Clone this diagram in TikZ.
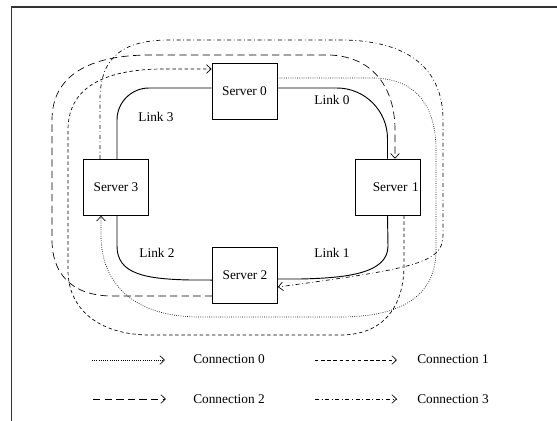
\documentclass[tikz,border=0pt]{standalone}
\usepackage{fontspec}
\setmainfont{Liberation Serif}
\usetikzlibrary{arrows.meta}
\begin{document}
\begin{tikzpicture}[x=0.75pt,y=-0.75pt,
  font=\fontsize{10}{12}\selectfont,
  serverbox/.style={draw,line width=0.5pt,minimum width=48.75pt,minimum height=42pt,inner sep=1pt},
  linkline/.style={line width=0.7pt},
  conn/.style={line width=0.5pt,-{Straight Barb[length=3.5pt,width=6.5pt]}},
  connzero/.style={conn,dash pattern=on 0.55pt off 1.1pt},
  connone/.style={conn,dash pattern=on 2.6pt off 2pt},
  conntwo/.style={conn,dash pattern=on 5.5pt off 3.2pt},
  connthree/.style={conn,dash pattern=on 3pt off 2pt on 0.6pt off 2pt},
  lbl/.style={inner sep=0pt}]
\useasboundingbox (0,0) rectangle (557,421);
% frame
\draw[line width=0.8pt,black!80] (11.5,421) -- (11.5,7) -- (557,7);
% servers
\node[serverbox] (s0) at (244.5,91) {Server 0};
\node[serverbox] (s3) at (116,187.5) {Server 3};
\node[serverbox,text width=46.75pt,align=right] (s1) at (387.5,187) {Server 1};
\node[serverbox] (s2) at (245,275.5) {Server 2};
% links
\draw[linkline,rounded corners=24pt] ([xshift=0.75pt]s3.north) |- ([yshift=2.25pt]s0.west);
\draw[linkline,rounded corners=38pt] ([yshift=2.25pt]s0.east) -| (s1.north);
\draw[linkline] (s1.south) -- (388,246) .. controls (388,274) and (345,278) .. (300,279) -- ([yshift=-2.6pt]s2.east);
\draw[linkline] ([xshift=0.75pt]s3.south) -- (117,246) .. controls (117,274) and (145,279) .. (190,280) -- ([yshift=-3.4pt]s2.west);
\node[lbl] (l3) at (156,117) {Link 3};
\node[lbl] (l0) at (332,100) {Link 0};
\node[lbl] (l1) at (332,253) {Link 1};
\node[lbl] (l2) at (157,253) {Link 2};
% connection 0 (dotted): Server 0 -> Server 3
\draw[connzero] ([yshift=9.75pt]s0.east) -- (372,78) .. controls (415,78) and (436,105) .. (436,150)
  -- (436,250) .. controls (436,297) and (400,317) .. (340,317) -- (200,317)
  .. controls (135,317) and (101,285) .. (101,235) -- ([xshift=-11.25pt]s3.south);
% connection 1 (short dashes): Server 1 -> Server 0
\draw[connone] ([xshift=12.4pt]s1.south) -- (404,265) .. controls (404,305) and (385,335) .. (340,335)
  -- (150,335) .. controls (100,335) and (68,310) .. (68,270) -- (68,130)
  .. controls (68,90) and (100,70) .. (160,69) -- ([yshift=16.5pt]s0.west);
% connection 2 (long dashes): Server 2 -> Server 1
\draw[conntwo] ([yshift=-15.4pt]s2.west) -- (110,296) .. controls (70,295) and (52,272) .. (52,240)
  -- (52,120) .. controls (52,75) and (90,55) .. (150,55) -- (330,55)
  .. controls (375,57) and (395,90) .. (395,130) -- ([xshift=5.6pt]s1.north);
% connection 3 (dash-dot): Server 3 -> Server 2
\draw[connthree] ([xshift=-12pt]s3.north) -- (100,100) .. controls (100,55) and (125,40) .. (170,40)
  -- (340,40) .. controls (410,40) and (443,70) .. (443,120) -- (443,235)
  .. controls (443,262) and (420,268) .. ([yshift=-8.6pt]s2.east);
% legend
\coordinate (a0) at (92,360); \coordinate (b0) at (165,360);
\coordinate (a1) at (315,360); \coordinate (b1) at (397,360);
\coordinate (a2) at (93,399); \coordinate (b2) at (166,399);
\coordinate (a3) at (315,399); \coordinate (b3) at (397,399);
\draw[connzero] (a0) -- (b0);
\draw[connone] (a1) -- (b1);
\draw[conntwo] (a2) -- (b2);
\draw[connthree] (a3) -- (b3);
\node[lbl,anchor=west] (t0) at (193,359) {Connection 0};
\node[lbl,anchor=west] (t1) at (417,359) {Connection 1};
\node[lbl,anchor=west] (t2) at (193,399) {Connection 2};
\node[lbl,anchor=west] (t3) at (417,399) {Connection 3};
\end{tikzpicture}
\end{document}
